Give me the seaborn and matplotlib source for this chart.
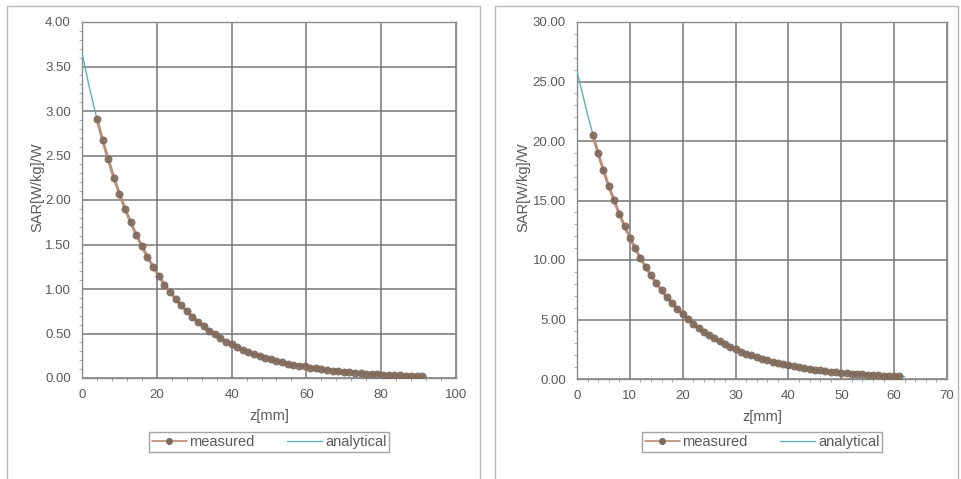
import matplotlib
matplotlib.use("Agg")
import matplotlib.pyplot as plt
import seaborn as sns
import pandas as pd
from matplotlib.ticker import MultipleLocator, FormatStrFormatter
from matplotlib.patches import Rectangle
from matplotlib.lines import Line2D

# ---------------- data ----------------
# left panel
z_meas_left = [4 + 1.5 * i for i in range(59)]
sar_meas_left = [2.91, 2.67, 2.46, 2.25, 2.07, 1.90, 1.75, 1.61, 1.48, 1.36,
                 1.25, 1.15, 1.05, 0.97, 0.89, 0.82, 0.75, 0.69, 0.63, 0.58,
                 0.53, 0.49, 0.45, 0.41, 0.38, 0.35, 0.32, 0.29, 0.27, 0.25,
                 0.23, 0.21, 0.19, 0.18, 0.16, 0.15, 0.14, 0.13, 0.117, 0.107,
                 0.099, 0.091, 0.083, 0.077, 0.070, 0.065, 0.059, 0.054, 0.050, 0.046,
                 0.042, 0.039, 0.036, 0.033, 0.030, 0.028, 0.025, 0.023, 0.021]
z_ana_left = list(range(0, 93, 2))
sar_ana_left = [3.65, 3.26, 2.91, 2.60, 2.33, 2.08, 1.86, 1.66, 1.48, 1.32,
                1.18, 1.05, 0.94, 0.84, 0.75, 0.67, 0.60, 0.54, 0.48, 0.43,
                0.38, 0.34, 0.30, 0.27, 0.24, 0.22, 0.19, 0.17, 0.155, 0.138,
                0.124, 0.110, 0.099, 0.088, 0.079, 0.070, 0.063, 0.056, 0.050, 0.045,
                0.040, 0.036, 0.032, 0.029, 0.026, 0.023, 0.020]

# right panel
z_meas_right = list(range(3, 62))
sar_meas_right = [20.5, 18.96, 17.54, 16.22, 15.01, 13.88, 12.84, 11.88, 10.99, 10.16,
                  9.40, 8.70, 8.04, 7.44, 6.88, 6.37, 5.89, 5.45, 5.04, 4.66,
                  4.31, 3.99, 3.69, 3.41, 3.16, 2.92, 2.70, 2.50, 2.31, 2.14,
                  1.98, 1.83, 1.69, 1.57, 1.45, 1.34, 1.24, 1.15, 1.06, 0.98,
                  0.91, 0.84, 0.78, 0.72, 0.66, 0.61, 0.57, 0.53, 0.49, 0.45,
                  0.42, 0.39, 0.36, 0.33, 0.31, 0.28, 0.26, 0.24, 0.22]
z_ana_right = list(range(0, 63, 2))
sar_ana_right = [25.9, 22.2, 18.96, 16.22, 13.88, 11.88, 10.16, 8.70, 7.44, 6.37,
                 5.45, 4.66, 3.99, 3.41, 2.92, 2.50, 2.14, 1.83, 1.57, 1.34,
                 1.15, 0.98, 0.84, 0.72, 0.61, 0.53, 0.45, 0.39, 0.33, 0.28,
                 0.24, 0.21]

x_label = "z[mm]"
y_label = "SAR[W/kg]/W"
legend_labels = ["measured", "analytical"]

# ---------------- style ----------------
sns.set_style("white")
plt.rcParams["font.family"] = ["Liberation Sans", "DejaVu Sans"]

meas_line = "#c08a72"
meas_marker = "#7e6a5c"
ana_color = "#5fb3b0"
grid_color = "#767676"
text_color = "#5a5a5a"

fig = plt.figure(figsize=(9.61, 4.79), dpi=100)

# panel borders
for x0, x1 in [(7, 480), (495, 958)]:
    fig.patches.append(Rectangle((x0 / 961, -0.05), (x1 - x0) / 961, 1 - 6 / 479 + 0.05,
                                 transform=fig.transFigure, fill=False,
                                 edgecolor="#b8b8b8", linewidth=1.0, zorder=0))

panels = [
    dict(rect=[82 / 961, 1 - 378 / 479, (456 - 82) / 961, (378 - 22) / 479],
         zm=z_meas_left, sm=sar_meas_left, za=z_ana_left, sa=sar_ana_left,
         xlim=(0, 100), xstep=20, ylim=(0, 4), ystep=0.5, yminor=0.1, xminor=4,
         ylab_x=37 / 961),
    dict(rect=[577 / 961, 1 - 379 / 479, (947 - 577) / 961, (379 - 22) / 479],
         zm=z_meas_right, sm=sar_meas_right, za=z_ana_right, sa=sar_ana_right,
         xlim=(0, 70), xstep=10, ylim=(0, 30), ystep=5, yminor=1, xminor=2,
         ylab_x=523 / 961),
]

for p in panels:
    ax = fig.add_axes(p["rect"])
    df_m = pd.DataFrame({"z": p["zm"], "sar": p["sm"]})
    df_a = pd.DataFrame({"z": p["za"], "sar": p["sa"]})
    sns.lineplot(data=df_a, x="z", y="sar", ax=ax, color=ana_color, linewidth=1.0,
                 zorder=3)
    sns.lineplot(data=df_m, x="z", y="sar", ax=ax, color=meas_line, linewidth=2.2,
                 marker="o", markersize=5, markerfacecolor=meas_marker,
                 markeredgecolor=meas_marker, alpha=0.9, zorder=4)
    ax.set_xlim(*p["xlim"])
    ax.set_ylim(*p["ylim"])
    ax.xaxis.set_major_locator(MultipleLocator(p["xstep"]))
    ax.yaxis.set_major_locator(MultipleLocator(p["ystep"]))
    ax.yaxis.set_minor_locator(MultipleLocator(p["yminor"]))
    ax.xaxis.set_minor_locator(MultipleLocator(p["xminor"]))
    ax.yaxis.set_major_formatter(FormatStrFormatter("%.2f"))
    ax.grid(True, which="major", color=grid_color, linewidth=1.1)
    ax.set_axisbelow(True)
    for s in ax.spines.values():
        s.set_color("#8c8c8c")
        s.set_linewidth(1.0)
    ax.tick_params(axis="both", which="major", labelsize=9.5, labelcolor=text_color,
                   color="#8c8c8c", length=3, direction="out", pad=5)
    ax.tick_params(axis="both", which="minor", color="#9a9a9a", length=2.5,
                   direction="out", left=True, bottom=True)
    ax.set_xlabel(x_label, fontsize=10.5, color=text_color, labelpad=6)
    ax.set_ylabel("")
    fig.text(p["ylab_x"], 0.61, y_label, rotation=90, fontsize=10.5,
             color=text_color, ha="center", va="center")
    handles = [
        Line2D([], [], color=meas_line, linewidth=1.2, marker="o", markersize=4,
               markerfacecolor=meas_marker, markeredgecolor=meas_marker),
        Line2D([], [], color=ana_color, linewidth=1.0),
    ]
    if ax.get_legend() is not None:
        ax.get_legend().remove()
    leg = ax.legend(handles, legend_labels, loc="center",
                    bbox_to_anchor=(0.5, (1 - 442 / 479 - p["rect"][1]) / p["rect"][3]),
                    ncol=2, fontsize=10.5, frameon=True, fancybox=False,
                    edgecolor="#8c8c8c", handlelength=2.4, columnspacing=2.2,
                    borderpad=0.2, handletextpad=0.2)
    leg.get_frame().set_linewidth(1.0)
    for t in leg.get_texts():
        t.set_color(text_color)

fig.savefig("out.png", dpi=100)
